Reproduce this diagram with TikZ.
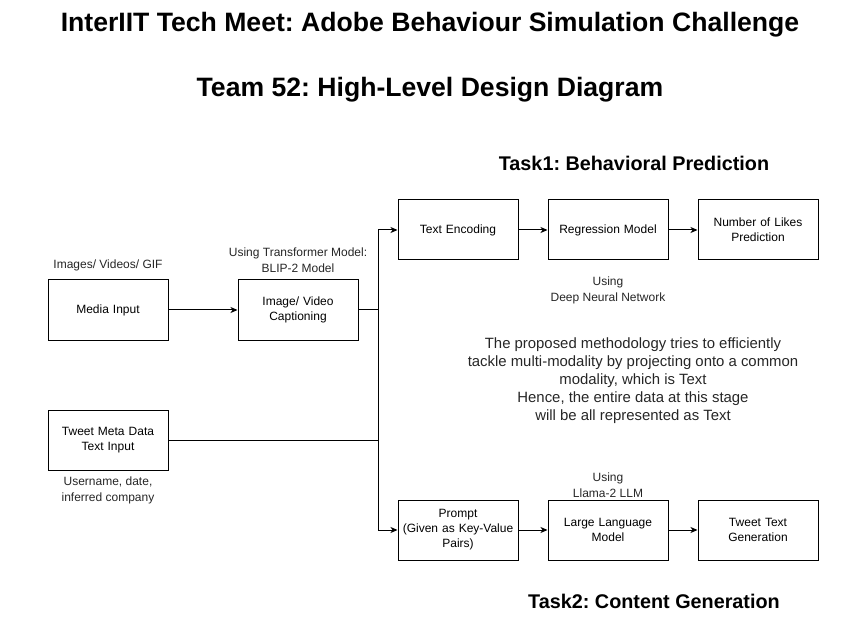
\documentclass[tikz,border=0pt]{standalone}
\usepackage{fontspec}
\setmainfont{Liberation Sans}
\usetikzlibrary{arrows.meta}
\frenchspacing

\begin{document}
\begin{tikzpicture}[x=1pt, y=-1pt, line width=1pt, >={Stealth[length=7pt,width=6pt,inset=2pt]},
	block/.style={rectangle, draw, minimum width=120pt, minimum height=60pt, align=center,
		inner sep=2pt, text width=114pt, font=\fontsize{12}{15}\selectfont},
	note/.style={align=center, text=black!85, font=\fontsize{12}{16}\selectfont},
	heading/.style={font=\fontsize{19.8}{24}\selectfont\bfseries},
	title/.style={font=\fontsize{26.6}{30}\selectfont\bfseries}]
		
		\useasboundingbox (0,0) rectangle (860,631);
		
		% Titles
		
		\node[title] (title1) at (430,25) {InterIIT Tech Meet: Adobe Behaviour Simulation Challenge};
		\node[title] (title2) at (430,90) {Team 52: High-Level Design Diagram};
		
		\node[heading] (task1) at (634,163) {Task1: Behavioral Prediction};
		\node[heading] (task2) at (654,601) {Task2: Content Generation};
		
		% Inputs
		
		\node[block] (media) at (108,310) {Media Input};
		\node[note] (mediaLabel) at (108,265) {Images/ Videos/ GIF};
		
		\node[block] (caption) at (298,310) {Image/ Video\\Captioning};
		\node[note] (captionLabel) at (298,260) {Using Transformer Model:\\BLIP-2 Model};
		
		\node[block] (tweet) at (108,440) {Tweet Meta Data\\Text Input};
		\node[note] (tweetLabel) at (108,490) {Username, date,\\inferred company};
		
		% Task 1
		
		\node[block] (encoding) at (458,230) {Text Encoding};
		\node[block] (regression) at (608,230) {Regression Model};
		\node[block] (likes) at (758,230) {Number of Likes\\Prediction};
		\node[note] (regressionLabel) at (608,290) {Using\\Deep Neural Network};
		
		% Task 2
		
		\node[block] (prompt) at (458,530) {Prompt\\(Given as Key-Value\\Pairs)};
		\node[block] (llm) at (608,530) {Large Language\\Model};
		\node[block] (generation) at (758,530) {Tweet Text\\Generation};
		\node[note] (llmLabel) at (608,485) {Using\\Llama-2 LLM};
		
		% Middle text
		
		\node[note, font=\fontsize{14.9}{18}\selectfont] (summary) at (633,381)
		{The proposed methodology tries to efficiently\\tackle multi-modality by projecting onto a common\\modality, which is Text\\Hence, the entire data at this stage\\will be all represented as Text};
		
		% Arrows
		
		\coordinate (split) at (378,310);
		
		\draw[->] (media) -- (caption);
		
		\draw (caption) -- (split);
		
		\draw[->] (split) |- (encoding);
		
		\draw[->] (split) |- (prompt);
		
		\draw (tweet) -- (tweet -| split);
		
		\draw[->] (encoding) -- (regression);
		
		\draw[->] (regression) -- (likes);
		
		\draw[->] (prompt) -- (llm);
		
		\draw[->] (llm) -- (generation);
		
	\end{tikzpicture}
\end{document}
